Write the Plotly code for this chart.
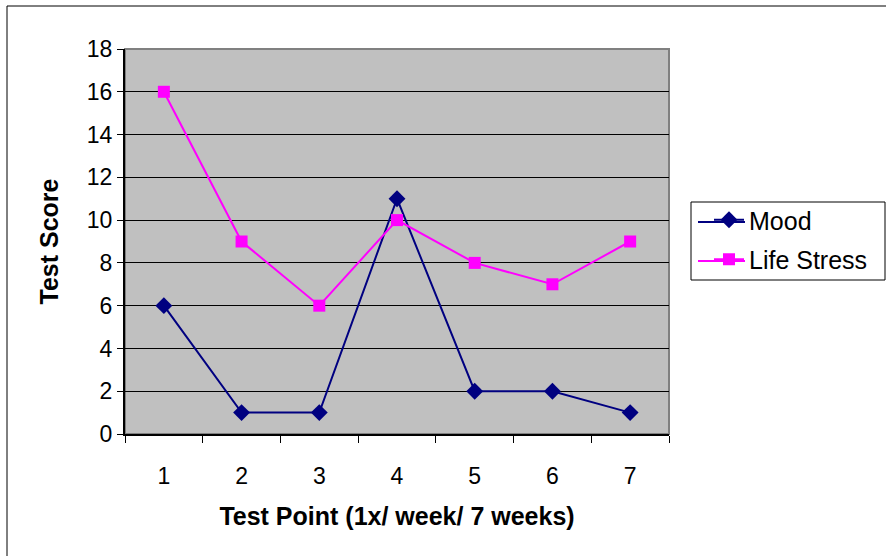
import plotly.graph_objects as go

categories = ["1", "2", "3", "4", "5", "6", "7"]
mood = [6, 1, 1, 11, 2, 2, 1]
life_stress = [16, 9, 6, 10, 8, 7, 9]
y_ticks = [0, 2, 4, 6, 8, 10, 12, 14, 16, 18]

FONT = "Liberation Sans, Arial, sans-serif"
MOOD_COLOR = "#000080"
STRESS_COLOR = "#FF00FF"

fig = go.Figure()
fig.add_trace(go.Scatter(
    x=categories, y=mood, name="Mood", mode="lines+markers",
    line=dict(color=MOOD_COLOR, width=2),
    marker=dict(symbol="diamond", size=13, color=MOOD_COLOR),
    legendgroup="a",
))
fig.add_trace(go.Scatter(
    x=categories, y=life_stress, name="Life Stress", mode="lines+markers",
    line=dict(color=STRESS_COLOR, width=2),
    marker=dict(symbol="square", size=12, color=STRESS_COLOR),
    legendgroup="b",
))

L, R, T, B = 125, 669, 49, 434
W, H = 886, 556

def px_x(p):
    return (p - L) / (R - L)

def px_y(p):
    return (B - p) / (B - T)

fig.update_layout(
    width=W, height=H,
    margin=dict(l=L, r=W - R, t=T, b=H - B),
    paper_bgcolor="white",
    plot_bgcolor="#C0C0C0",
    font=dict(family=FONT, size=23, color="black"),
    showlegend=True,
    legend=dict(
        x=px_x(709), y=px_y(197), xanchor="left", yanchor="top",
        borderwidth=0, bgcolor="rgba(0,0,0,0)",
        font=dict(family=FONT, size=25, color="black"),
        tracegroupgap=4,
    ),
    xaxis=dict(
        type="category", range=[-0.5, 6.5],
        tickson="boundaries", ticks="outside", ticklen=7, tickcolor="black",
        showline=True, linecolor="black", linewidth=2,
        showgrid=False, zeroline=False,
        ticklabelstandoff=20,
        tickfont=dict(family=FONT, size=23, color="black"),
        title=dict(text="<b>Test Point (1x/ week/ 7 weeks)</b>",
                   font=dict(family=FONT, size=25, color="black"), standoff=20),
    ),
    yaxis=dict(
        range=[0, 18], tickvals=y_ticks,
        ticks="outside", ticklen=6, tickcolor="black",
        showline=True, linecolor="black", linewidth=2,
        showgrid=True, gridcolor="black", gridwidth=1,
        zeroline=False,
        tickfont=dict(family=FONT, size=23, color="black"),
        title=dict(text="<b>Test Score</b>",
                   font=dict(family=FONT, size=25, color="black"), standoff=21),
    ),
    shapes=[
        # plot area border (grey, Excel style)
        dict(type="rect", xref="paper", yref="paper", x0=0, x1=1, y0=0, y1=1,
             line=dict(color="#808080", width=2), layer="below"),
        # chart outer border
        dict(type="rect", xref="paper", yref="paper",
             x0=px_x(7), x1=px_x(900), y0=px_y(570), y1=px_y(6),
             line=dict(color="black", width=1), layer="below"),
        # legend box
        dict(type="rect", xref="paper", yref="paper",
             x0=px_x(691), x1=px_x(885), y0=px_y(280), y1=px_y(202),
             line=dict(color="black", width=1), fillcolor="white", layer="below"),
        # legend keys (Excel draws longer, 2px legend keys)
        dict(type="line", xref="paper", yref="paper",
             x0=px_x(698), x1=px_x(745), y0=px_y(222), y1=px_y(222),
             line=dict(color=MOOD_COLOR, width=2)),
        dict(type="line", xref="paper", yref="paper",
             x0=px_x(698), x1=px_x(745), y0=px_y(261), y1=px_y(261),
             line=dict(color=STRESS_COLOR, width=2)),
    ],
)

fig.write_html("out.html")
